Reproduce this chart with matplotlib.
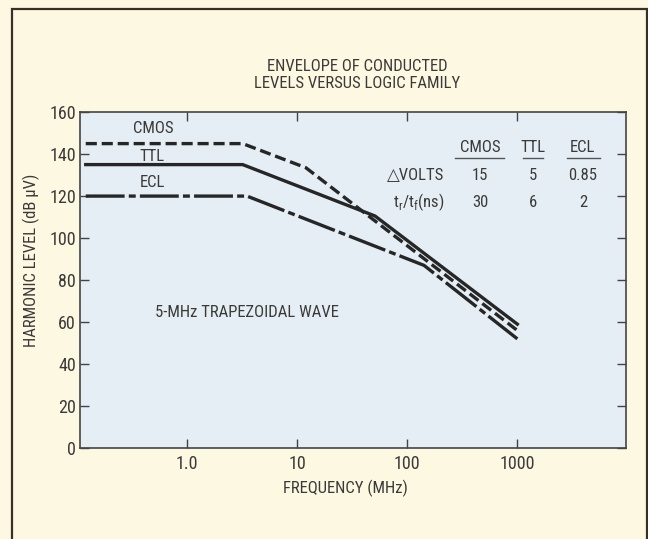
import matplotlib
matplotlib.use('Agg')
import matplotlib.pyplot as plt
from matplotlib.patches import Rectangle

# Données (fréquence en MHz, niveau en dB µV)
freq_cmos = [0.12, 3.2, 12, 1000]
level_cmos = [145, 145, 133.5, 56]
freq_ttl = [0.12, 3.2, 51, 1000]
level_ttl = [135, 135, 110.5, 59]
freq_ecl = [0.12, 3.5, 142, 1000]
level_ecl = [120, 120, 87, 52]

families = ['CMOS', 'TTL', 'ECL']
delta_volts = ['15', '5', '0.85']
rise_fall_ns = ['30', '6', '2']

x_ticks = [1, 10, 100, 1000]
x_ticklabels = ['1.0', '10', '100', '1000']
y_ticks = [0, 20, 40, 60, 80, 100, 120, 140, 160]

plt.rcParams['font.family'] = ['Roboto Condensed', 'Liberation Sans Narrow', 'Liberation Sans', 'DejaVu Sans']
plt.rcParams['lines.scale_dashes'] = False
txt = '#3c3a38'
ink = '#262626'
fs = 12

fig = plt.figure(figsize=(6.48, 5.39), dpi=100, facecolor='#fdf8e2')
ax = fig.add_axes([0.1235, 0.1688, 0.8425, 0.6232], facecolor='#e4eef4')

ax.plot(freq_cmos, level_cmos, color=ink, lw=2.4, dashes=(8, 3.5), solid_capstyle='butt')
ax.plot(freq_ttl, level_ttl, color=ink, lw=2.4)
ax.plot(freq_ecl, level_ecl, color=ink, lw=2.4, dashes=(28, 3, 5, 3))

ax.set_xscale('log')
ax.set_xlim(0.1065, 9700)
ax.set_ylim(0, 160)
ax.set_xticks(x_ticks)
ax.set_xticklabels(x_ticklabels)
ax.minorticks_off()
ax.set_yticks(y_ticks)
ax.tick_params(direction='in', length=6.5, width=1, color='#444444',
               labelsize=13, labelcolor=txt, top=True, right=True)
ax.tick_params(axis='x', pad=5)
ax.tick_params(axis='y', pad=3)
for sp in ax.spines.values():
    sp.set_color('#444444')
    sp.set_linewidth(1.2)

ax.set_xlabel('FREQUENCY (MHz)', fontsize=fs, color=txt)
ax.xaxis.set_label_coords(0.487, -0.094)
ax.set_ylabel('HARMONIC LEVEL (dB \u00b5V)', fontsize=fs, color=txt)
ax.yaxis.set_label_coords(-0.073, 0.56)

fig.text(0.551, 0.861, 'ENVELOPE OF CONDUCTED\nLEVELS VERSUS LOGIC FAMILY',
         ha='center', va='center', fontsize=fs, color=txt, linespacing=1.1)

# étiquettes des courbes
ax.text(0.134, 0.952, 'CMOS', transform=ax.transAxes, ha='center', va='center', fontsize=fs, color=txt)
ax.text(0.132, 0.869, 'TTL', transform=ax.transAxes, ha='center', va='center', fontsize=fs, color=txt)
ax.text(0.132, 0.789, 'ECL', transform=ax.transAxes, ha='center', va='center', fontsize=fs, color=txt)
ax.text(0.137, 0.402, '5-MHz TRAPEZOIDAL WAVE', transform=ax.transAxes, ha='left', va='center',
        fontsize=fs, color=txt)

# petit tableau
col_x = [0.733, 0.830, 0.921]
line_x = [(0.686, 0.777), (0.811, 0.848), (0.892, 0.952)]
for i in range(3):
    ax.text(col_x[i], 0.896, families[i], transform=ax.transAxes, ha='center', va='center',
            fontsize=fs, color=txt)
    ax.plot(line_x[i], [0.864, 0.864], transform=ax.transAxes, color='#555555', lw=1)
    ax.text(col_x[i], 0.810, delta_volts[i], transform=ax.transAxes, ha='center', va='center',
            fontsize=fs, color=txt)
    ax.text(col_x[i], 0.732, rise_fall_ns[i], transform=ax.transAxes, ha='center', va='center',
            fontsize=fs, color=txt)
ax.text(0.667, 0.810, '\u25b3VOLTS', transform=ax.transAxes, ha='right', va='center',
        fontsize=fs, color=txt)
ax.text(0.667, 0.732, 't$_\\mathregular{r}$/t$_\\mathregular{f}$(ns)', transform=ax.transAxes,
        ha='right', va='center', fontsize=fs, color=txt)

# cadre extérieur
fig.patches.append(Rectangle((12 / 648, -0.05), 635 / 648, 1.05 - 9 / 539, transform=fig.transFigure,
                             fill=False, edgecolor='#3a2e28', lw=1.6, clip_on=False))

fig.savefig('out.png', dpi=100, facecolor=fig.get_facecolor())
